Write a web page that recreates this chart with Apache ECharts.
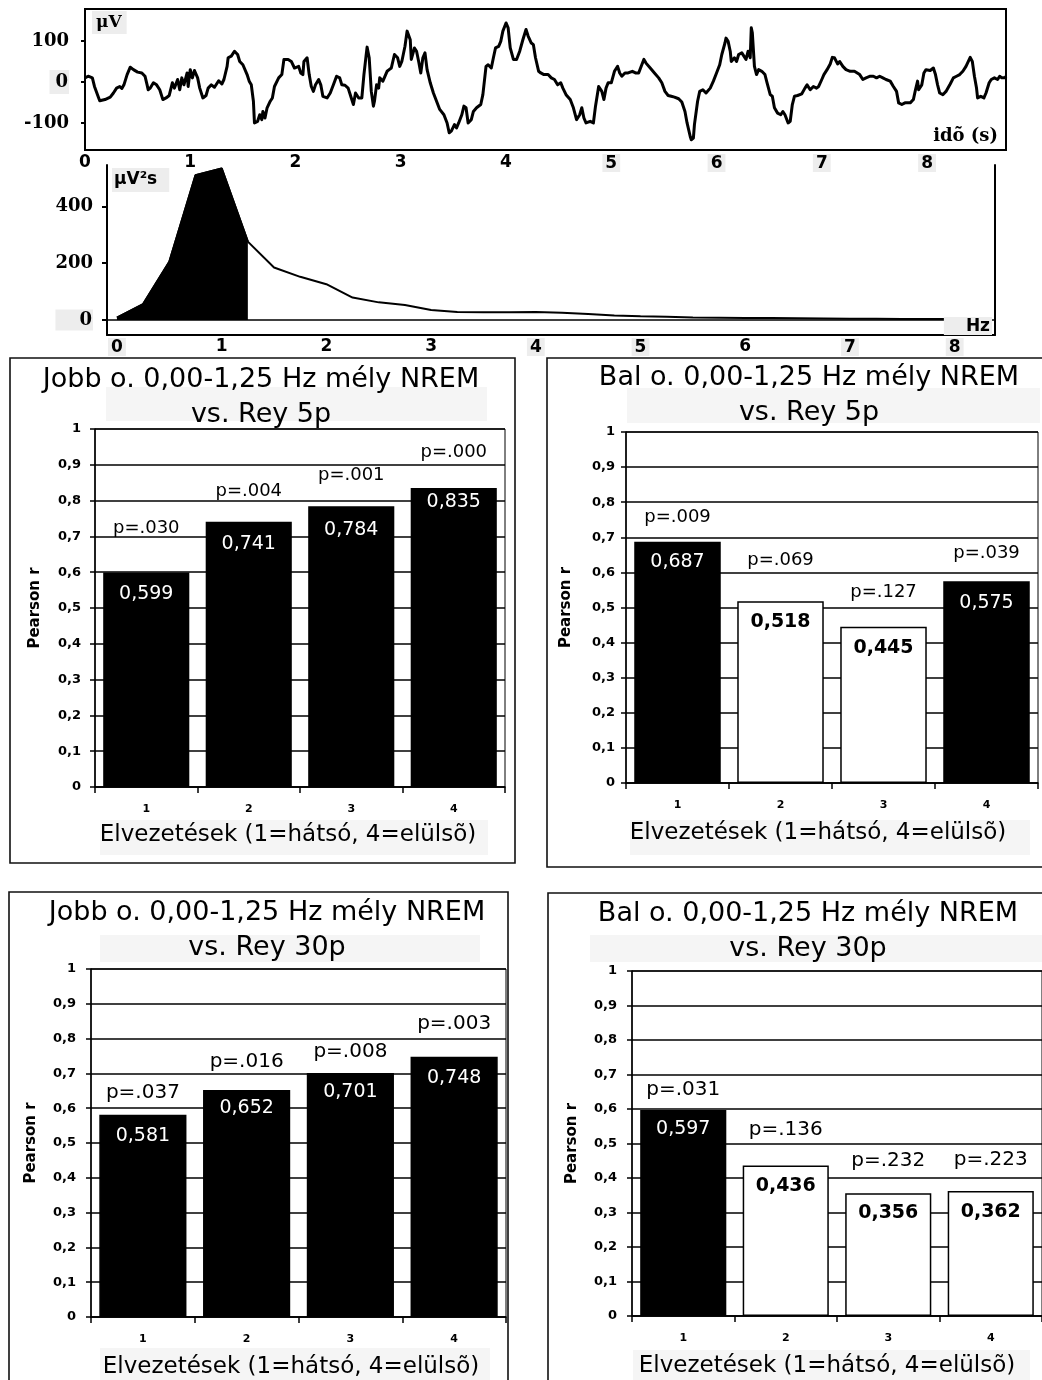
<!DOCTYPE html>
<html>
<head>
<meta charset="utf-8">
<title>Mély NREM lassú aktivitás és Rey teszt</title>
<script src="https://cdn.jsdelivr.net/npm/echarts@6/dist/echarts.min.js"></script>
<style>
  html, body { margin: 0; padding: 0; background: #fff; }
  #chart { width: 1042px; height: 1380px; }
</style>
</head>
<body>
<div id="chart"></div>
<script>
// ---------- data ----------
// EEG segment: [time (s), amplitude (µV)]
const eegSamples = [
  [0.00,10],[0.03,14],[0.07,10],[0.09,-11],[0.13,-39],[0.14,-46],[0.19,-43],[0.24,-37],[0.27,-27],[0.30,-15],
  [0.33,-11],[0.35,-16],[0.37,-7],[0.40,18],[0.43,36],[0.46,30],[0.50,24],[0.54,22],[0.57,14],[0.59,-7],
  [0.60,-19],[0.62,-15],[0.65,-2],[0.68,-7],[0.71,-19],[0.74,-43],[0.77,-39],[0.80,-33],[0.83,-2],[0.85,-15],
  [0.88,6],[0.90,-19],[0.92,10],[0.94,-7],[0.97,22],[0.98,-11],[1.00,30],[1.02,10],[1.04,28],[1.07,10],
  [1.09,-15],[1.12,-39],[1.15,-33],[1.17,-15],[1.20,-7],[1.23,-13],[1.27,3],[1.30,-5],[1.32,6],[1.35,38],
  [1.36,59],[1.39,63],[1.42,75],[1.45,67],[1.47,50],[1.50,42],[1.54,18],[1.56,2],[1.58,-7],[1.60,-47],
  [1.61,-100],[1.64,-96],[1.66,-80],[1.68,-92],[1.69,-72],[1.71,-88],[1.73,-63],[1.76,-47],[1.78,-39],[1.80,-11],
  [1.84,10],[1.87,18],[1.89,55],[1.93,55],[1.96,50],[1.99,34],[2.03,38],[2.05,22],[2.07,18],[2.08,50],
  [2.11,59],[2.13,18],[2.15,-11],[2.17,-23],[2.19,-7],[2.22,6],[2.24,-7],[2.26,-35],[2.30,-39],[2.33,-27],
  [2.36,-7],[2.39,14],[2.42,10],[2.44,-7],[2.47,-8],[2.50,-15],[2.53,-39],[2.55,-55],[2.57,-27],[2.60,-39],
  [2.63,-39],[2.65,18],[2.67,63],[2.68,85],[2.70,59],[2.72,-23],[2.74,-59],[2.75,-47],[2.77,-7],[2.79,-15],
  [2.80,10],[2.83,2],[2.87,26],[2.89,30],[2.91,34],[2.94,67],[2.97,59],[2.99,38],[3.01,50],[3.04,87],
  [3.06,124],[3.09,103],[3.10,55],[3.13,83],[3.15,75],[3.17,50],[3.19,22],[3.21,59],[3.23,71],[3.25,30],
  [3.28,-2],[3.31,-27],[3.34,-47],[3.37,-67],[3.41,-80],[3.44,-100],[3.46,-124],[3.48,-120],[3.51,-104],[3.53,-112],
  [3.55,-100],[3.58,-80],[3.60,-59],[3.62,-63],[3.64,-100],[3.67,-92],[3.69,-72],[3.72,-63],[3.76,-55],[3.78,-31],
  [3.81,38],[3.83,42],[3.86,34],[3.88,59],[3.90,83],[3.93,87],[3.95,99],[3.97,124],[4.00,144],[4.02,132],
  [4.04,83],[4.07,55],[4.10,55],[4.13,75],[4.16,103],[4.19,128],[4.21,112],[4.24,95],[4.26,91],[4.28,59],
  [4.31,26],[4.33,22],[4.36,18],[4.40,18],[4.43,10],[4.46,6],[4.49,-7],[4.52,-2],[4.54,-15],[4.57,-31],
  [4.61,-43],[4.64,-63],[4.67,-92],[4.70,-80],[4.72,-63],[4.74,-88],[4.76,-100],[4.80,-96],[4.83,-100],[4.85,-59],
  [4.88,-11],[4.91,-23],[4.93,-43],[4.95,-15],[4.97,-2],[5.00,-2],[5.03,26],[5.06,38],[5.08,22],[5.10,14],
  [5.13,22],[5.16,22],[5.20,26],[5.23,22],[5.26,22],[5.29,42],[5.31,55],[5.33,46],[5.37,34],[5.41,22],
  [5.45,10],[5.48,-2],[5.51,-23],[5.54,-33],[5.57,-35],[5.60,-37],[5.64,-41],[5.67,-49],[5.70,-72],[5.72,-100],
  [5.75,-133],[5.76,-141],[5.78,-137],[5.79,-104],[5.82,-47],[5.84,-23],[5.87,-19],[5.90,-27],[5.94,-15],[5.97,2],
  [6.00,22],[6.03,42],[6.05,67],[6.08,95],[6.09,107],[6.11,99],[6.13,75],[6.14,50],[6.17,59],[6.19,50],
  [6.21,67],[6.24,71],[6.26,63],[6.28,55],[6.30,75],[6.32,59],[6.33,132],[6.34,120],[6.35,79],[6.36,38],
  [6.38,18],[6.40,30],[6.43,26],[6.46,18],[6.48,-2],[6.51,-31],[6.53,-35],[6.55,-63],[6.58,-76],[6.61,-80],
  [6.63,-72],[6.65,-80],[6.68,-100],[6.70,-96],[6.72,-55],[6.74,-35],[6.77,-33],[6.81,-29],[6.84,-15],[6.86,-7],
  [6.89,-19],[6.92,-11],[6.95,-15],[6.97,-11],[7.00,6],[7.02,18],[7.05,30],[7.08,44],[7.10,60],[7.12,59],
  [7.15,44],[7.17,50],[7.20,38],[7.23,30],[7.27,26],[7.31,26],[7.36,18],[7.39,6],[7.42,10],[7.46,14],
  [7.49,14],[7.52,10],[7.55,14],[7.58,10],[7.61,6],[7.65,2],[7.68,-11],[7.71,-23],[7.73,-51],[7.76,-55],
  [7.79,-51],[7.84,-51],[7.87,-43],[7.89,-19],[7.91,2],[7.92,-19],[7.95,-7],[7.97,22],[7.99,30],[8.03,28],
  [8.06,34],[8.08,18],[8.10,-7],[8.12,-27],[8.15,-31],[8.18,-23],[8.22,-5],[8.25,10],[8.28,14],[8.31,18],
  [8.34,26],[8.37,38],[8.41,60],[8.43,50],[8.45,14],[8.47,-15],[8.48,-39],[8.51,-35],[8.54,-39],[8.56,-27],
  [8.59,-2],[8.61,6],[8.64,10],[8.67,6],[8.69,14],[8.71,10],[8.74,10],[8.75,14]
];
const eegSecondTicks = [0, 1, 2, 3, 4, 5, 6, 7, 8];
const eegMicroVoltTicks = [-100, 0, 100];

// Power spectrum of the segment (µV²s per 0.25 Hz bin)
const spectrumHz = [0, 0.25, 0.5, 0.75, 1, 1.25, 1.5, 1.75, 2, 2.25, 2.5, 2.75, 3, 3.25, 3.5, 3.75, 4,
  4.25, 4.5, 4.75, 5, 5.25, 5.5, 5.75, 6, 6.25, 6.5, 6.75, 7, 7.25, 7.5, 7.75, 8, 8.25];
const spectrumPower = [8, 56, 205, 510, 534, 276, 185, 152, 126, 79, 62, 53, 35, 28, 27, 27, 28,
  25, 21, 16, 13, 11, 9, 8, 7, 7, 6, 5, 4, 4, 3, 3, 3, 3];
const lowBandLimitHz = 1.25;
const spectrumHzTicks = [0, 1, 2, 3, 4, 5, 6, 7, 8];
const spectrumPowerTicks = [0, 200, 400];

// Correlations with Rey recall (Pearson r and p) for leads 1..4
const leadCategories = ['1', '2', '3', '4'];
const jobb5pR = [0.599, 0.741, 0.784, 0.835];
const jobb5pP = [0.030, 0.004, 0.001, 0.000];
const bal5pR = [0.687, 0.518, 0.445, 0.575];
const bal5pP = [0.009, 0.069, 0.127, 0.039];
const jobb30pR = [0.581, 0.652, 0.701, 0.748];
const jobb30pP = [0.037, 0.016, 0.008, 0.003];
const bal30pR = [0.597, 0.436, 0.356, 0.362];
const bal30pP = [0.031, 0.136, 0.232, 0.223];
const leadAxisTitle = 'Elvezetések (1=hátsó, 4=elülsõ)';
const rAxisTitle = 'Pearson r';

// ---------- layout ----------
const SANS = '"DejaVu Sans", sans-serif';
const SERIF = '"DejaVu Serif", serif';
const SHADE = '#f5f5f5';
const LABEL_SHADE = '#ededed';

const panels = [
  { title: 'Jobb o. 0,00-1,25 Hz mély NREM\nvs. Rey 5p', r: jobb5pR, p: jobb5pP,
    box: [10, 358, 505, 505], grid: { left: 95, top: 429, width: 410, height: 358 },
    titleCx: 261, titleTop: 362, nameCx: 288, nameCy: 835, tickMargin: 14, pFont: 18,
    pLift: [44, 30, 31, 36], valueDrop: [22, 23, 24, 14],
    shades: [[106, 387, 381, 34], [100, 820, 388, 35]] },
  { title: 'Bal o. 0,00-1,25 Hz mély NREM\nvs. Rey 5p', r: bal5pR, p: bal5pP,
    box: [547, 358, 505, 509], grid: { left: 626, top: 432, width: 412, height: 351 },
    titleCx: 809, titleTop: 360, nameCx: 818, nameCy: 833, tickMargin: 11, pFont: 18,
    pLift: [25, 41, 34, 28], valueDrop: [21, 21, 22, 22],
    shades: [[627, 388, 413, 35], [630, 820, 400, 35]] },
  { title: 'Jobb o. 0,00-1,25 Hz mély NREM\nvs. Rey 30p', r: jobb30pR, p: jobb30pP,
    box: [9, 892, 499, 510], grid: { left: 91, top: 969, width: 415, height: 348 },
    titleCx: 267, titleTop: 895, nameCx: 291, nameCy: 1367, tickMargin: 15, pFont: 20,
    pLift: [22, 28, 21, 33], valueDrop: [22, 18, 20, 22],
    shades: [[100, 935, 380, 27], [100, 1348, 390, 34]] },
  { title: 'Bal o. 0,00-1,25 Hz mély NREM\nvs. Rey 30p', r: bal30pR, p: bal30pP,
    box: [548, 893, 505, 510], grid: { left: 632, top: 971, width: 410, height: 345 },
    titleCx: 808, titleTop: 896, nameCx: 827, nameCy: 1366, tickMargin: 15, pFont: 20,
    pLift: [20, 36, 32, 31], valueDrop: [20, 21, 20, 21],
    shades: [[590, 935, 452, 27], [633, 1350, 397, 32]] }
];

const fmtR = v => v.toFixed(3).replace('.', ',');
const fmtP = v => 'p=' + v.toFixed(3).replace(/^0/, '');
const fmtTick = v => (v === 0 || v === 1) ? String(v) : v.toFixed(1).replace('.', ',');
const black = (w) => ({ color: '#000', width: w });

// tick labels that sit on a pale pasted-in patch
const shadedTick = (shaded, pad) => ({
  formatter: v => shaded.indexOf(v) >= 0 ? '{g|' + v + '}' : String(v),
  rich: { g: { backgroundColor: LABEL_SHADE, padding: pad, fontFamily: SANS, fontWeight: 'bold', fontSize: 17, color: '#000' } }
});
const zeroShaded = (size, pad) => ({
  formatter: v => v === 0 ? '{z|0}' : String(v),
  rich: { z: { backgroundColor: LABEL_SHADE, padding: pad, fontFamily: SERIF, fontWeight: 'bold', fontSize: size, color: '#000' } }
});

// ---------- grids and axes ----------
const grids = [
  { left: 85, top: 9, width: 921, height: 141, show: true, borderColor: '#000', borderWidth: 2, outerBoundsMode: 'none' },
  { left: 107, top: 165, width: 888, height: 170, outerBoundsMode: 'none' }
];
const xAxes = [
  { gridIndex: 0, type: 'value', min: 0, max: 8.75,
    axisLine: { show: true, onZero: false, lineStyle: black(2) }, axisTick: { show: false }, splitLine: { show: false },
    axisLabel: Object.assign({ customValues: eegSecondTicks, margin: 4, color: '#000', fontFamily: SANS, fontWeight: 'bold', fontSize: 17 },
      shadedTick([5, 6, 7, 8], [1, 3, 0, 3])) },
  { gridIndex: 1, type: 'value', min: -0.095, max: 8.385,
    axisLine: { show: true, onZero: false, lineStyle: black(2) }, axisTick: { show: false }, splitLine: { show: false },
    axisLabel: Object.assign({ customValues: spectrumHzTicks, margin: 3, color: '#000', fontFamily: SANS, fontWeight: 'bold', fontSize: 17 },
      shadedTick([0, 4, 5, 7, 8], [1, 3, 0, 3])) }
];
const yAxes = [
  { gridIndex: 0, type: 'value', min: -166, max: 178,
    axisLine: { show: true, onZero: false, lineStyle: black(2) }, splitLine: { show: false },
    axisTick: { show: true, customValues: eegMicroVoltTicks, length: 4, lineStyle: black(2) },
    axisLabel: Object.assign({ customValues: eegMicroVoltTicks, margin: 16, color: '#000', fontFamily: SERIF, fontWeight: 'bold', fontSize: 18 },
      zeroShaded(18, [3, 1, 3, 6])) },
  { gridIndex: 1, type: 'value', min: -53, max: 546,
    axisLine: { show: true, onZero: false, lineStyle: black(2) }, splitLine: { show: false },
    axisTick: { show: true, customValues: spectrumPowerTicks, length: 5, lineStyle: black(2) },
    axisLabel: Object.assign({ customValues: spectrumPowerTicks, margin: 14, color: '#000', fontFamily: SERIF, fontWeight: 'bold', fontSize: 18 },
      zeroShaded(18, [2, 1, 1, 24])) },
  { gridIndex: 1, type: 'value', position: 'right', min: -53, max: 546,
    axisLine: { show: true, onZero: false, lineStyle: black(2) }, axisTick: { show: false }, axisLabel: { show: false }, splitLine: { show: false } }
];

const series = [
  { type: 'line', xAxisIndex: 0, yAxisIndex: 0, data: eegSamples, showSymbol: false, smooth: false,
    lineStyle: { color: '#000', width: 3, join: 'round' }, silent: true },
  { type: 'line', xAxisIndex: 1, yAxisIndex: 1, showSymbol: false, silent: true,
    data: spectrumHz.map((f, i) => [f, spectrumPower[i]]),
    lineStyle: { color: '#000', width: 2 },
    markLine: { silent: true, symbol: ['none', 'none'], label: { show: false },
      lineStyle: { color: '#000', width: 1.5, type: 'solid' }, data: [{ yAxis: 0 }] } },
  { type: 'line', xAxisIndex: 1, yAxisIndex: 1, showSymbol: false, silent: true,
    data: spectrumHz.map((f, i) => [f, spectrumPower[i]]).filter(d => d[0] <= lowBandLimitHz),
    lineStyle: { color: '#000', width: 2 }, areaStyle: { color: '#000', opacity: 1 } }
];

const graphics = [
  { type: 'text', z: 50, style: { x: 92, y: 11, text: 'μV', font: 'bold 17px ' + SERIF, fill: '#000',
      backgroundColor: LABEL_SHADE, padding: [3, 5, 3, 4] } },
  { type: 'text', z: 50, style: { x: 998, y: 145, text: 'idõ (s)', font: 'bold 18px ' + SERIF, fill: '#000',
      align: 'right', verticalAlign: 'bottom' } },
  { type: 'text', z: 50, style: { x: 112, y: 168, text: 'μV²s', font: 'bold 17px ' + SANS, fill: '#000',
      backgroundColor: LABEL_SHADE, padding: [3, 12, 4, 2] } },
  { type: 'text', z: 50, style: { x: 992, y: 335, text: 'Hz', font: 'bold 17px ' + SANS, fill: '#000',
      align: 'right', verticalAlign: 'bottom', backgroundColor: LABEL_SHADE, padding: [1, 2, 0, 22] } }
];

panels.forEach((pn, k) => {
  const gi = k + 2, xi = k + 2, yi = k + 3;
  grids.push(Object.assign({ show: true, borderColor: '#000', borderWidth: 1, outerBoundsMode: 'none' }, pn.grid));
  xAxes.push({ gridIndex: gi, type: 'category', data: leadCategories,
    axisLine: { show: true, lineStyle: black(1.5) },
    axisTick: { show: true, alignWithLabel: false, length: 6, lineStyle: black(1.5) },
    axisLabel: { margin: 17, color: '#000', fontFamily: SANS, fontWeight: 'bold', fontSize: 11 },
    splitLine: { show: false } });
  yAxes.push({ gridIndex: gi, type: 'value', min: 0, max: 1, interval: 0.1,
    name: rAxisTitle, nameLocation: 'middle', nameGap: 52, nameRotate: 90,
    nameTextStyle: { fontFamily: SANS, fontWeight: 'bold', fontSize: 15, color: '#000' },
    axisLine: { show: true, onZero: false, lineStyle: black(1.5) },
    axisTick: { show: true, length: 5, lineStyle: black(1.5) },
    axisLabel: { margin: pn.tickMargin, formatter: fmtTick, color: '#000', fontFamily: SANS, fontWeight: 'bold', fontSize: 13 },
    splitLine: { show: true, lineStyle: black(1.5) } });

  const significant = pn.p.map(v => v < 0.05);
  series.push({
    type: 'bar', xAxisIndex: xi, yAxisIndex: yi, barWidth: '84%', silent: true,
    itemStyle: { borderColor: '#000', borderWidth: 1.5 },
    label: { show: true, position: 'insideTop', fontFamily: SANS, fontSize: 19, formatter: d => fmtR(d.value) },
    data: pn.r.map((v, i) => ({
      value: v,
      itemStyle: { color: significant[i] ? '#000' : '#fff' },
      label: { distance: pn.valueDrop[i] - 10, color: significant[i] ? '#fff' : '#000',
        fontWeight: significant[i] ? 'normal' : 'bold' }
    }))
  });
  series.push({
    type: 'bar', xAxisIndex: xi, yAxisIndex: yi, barWidth: '84%', barGap: '-100%', silent: true,
    itemStyle: { color: 'rgba(0,0,0,0)', borderWidth: 0 },
    label: { show: true, position: 'top', color: '#000', fontFamily: SANS, fontSize: pn.pFont,
      formatter: d => fmtP(pn.p[d.dataIndex]) },
    data: pn.r.map((v, i) => ({ value: v, label: { distance: pn.pLift[i] - pn.pFont / 2 } }))
  });

  pn.shades.forEach(s => graphics.push({ type: 'rect', z: 1, silent: true,
    shape: { x: s[0], y: s[1], width: s[2], height: s[3] }, style: { fill: SHADE } }));
  graphics.push({ type: 'rect', z: 60, silent: true,
    shape: { x: pn.box[0], y: pn.box[1], width: pn.box[2], height: pn.box[3] },
    style: { fill: 'none', stroke: '#111', lineWidth: 1.6 } });
  graphics.push({ type: 'text', z: 50, silent: true,
    style: { x: pn.titleCx, y: pn.titleTop, text: pn.title, font: '27px ' + SANS, lineHeight: 35,
      align: 'center', verticalAlign: 'top', fill: '#000' } });
  graphics.push({ type: 'text', z: 50, silent: true,
    style: { x: pn.nameCx, y: pn.nameCy, text: leadAxisTitle, font: '23px ' + SANS,
      align: 'center', verticalAlign: 'middle', fill: '#000' } });
});

const chart = echarts.init(document.getElementById('chart'), null, { renderer: 'canvas' });
chart.setOption({
  animation: false,
  backgroundColor: '#fff',
  grid: grids,
  xAxis: xAxes,
  yAxis: yAxes,
  series: series,
  graphic: { elements: graphics }
});
</script>
</body>
</html>
